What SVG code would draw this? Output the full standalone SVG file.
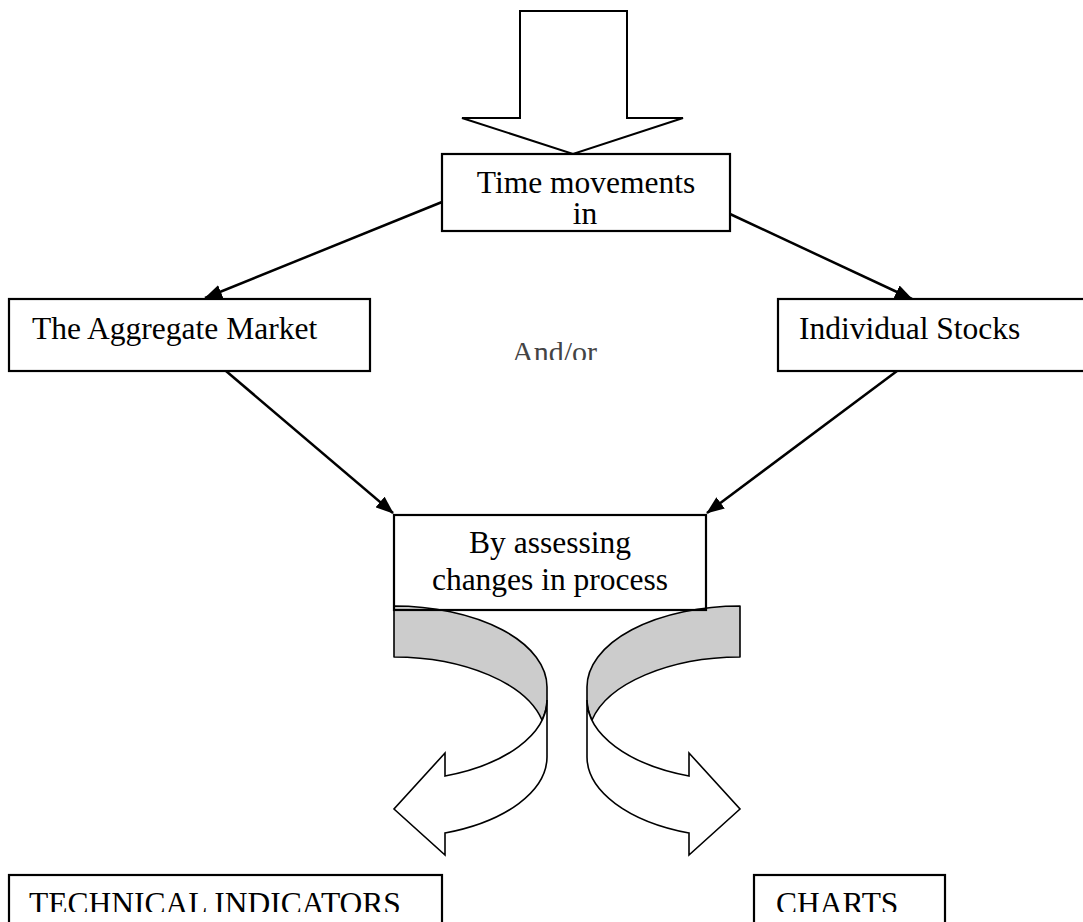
<svg xmlns="http://www.w3.org/2000/svg" width="1083" height="922" viewBox="0 0 1083 922">
<style>
.box{fill:#fff;stroke:#000;stroke-width:2.2}
.boxo{fill:none;stroke:#000;stroke-width:2.2}
.t{font-family:"Liberation Serif","Times New Roman",serif;font-size:31.5px;fill:#000}
.and{font-family:"Liberation Serif","Times New Roman",serif;font-size:30px;fill:#444}
.con{stroke:#000;stroke-width:2.5;fill:none;marker-end:url(#ah)}
.back{fill:#cccccc;stroke:#000;stroke-width:1.6;stroke-linejoin:round}
.front{fill:#fff;stroke:#000;stroke-width:1.6;stroke-linejoin:miter}
</style>
<defs>
<marker id="ah" markerUnits="userSpaceOnUse" markerWidth="18" markerHeight="14" refX="17" refY="7" orient="auto">
<path d="M0,0 L18,7 L0,14 z" fill="#000"/>
</marker>
<clipPath id="clipBottom"><rect x="0" y="0" width="1083" height="912"/></clipPath>
<clipPath id="clipAnd"><rect x="0" y="0" width="1083" height="360"/></clipPath>
</defs>
<rect width="1083" height="922" fill="#fff"/>

<g id="top-arrow">
<polygon points="520,11 627,11 627,118 683,118 573,154 462,118 520,118" fill="#fff" stroke="#000" stroke-width="2"/>
</g>

<g id="connectors">
<line class="con" x1="442" y1="202" x2="205" y2="298"/>
<line class="con" x1="730" y1="214" x2="912" y2="299"/>
<line class="con" x1="226" y1="371" x2="393" y2="513"/>
<line class="con" x1="897" y1="371" x2="707" y2="513"/>
</g>

<g id="node-time">
<rect class="box" x="442" y="154" width="288" height="77"/>
<text class="t" text-anchor="middle"><tspan x="586" y="193">Time movements</tspan><tspan x="585" y="224">in</tspan></text>
</g>

<g id="node-aggregate">
<rect class="box" x="9" y="299" width="361" height="72"/>
<text class="t" x="32" y="339">The Aggregate Market</text>
</g>

<g id="node-individual">
<rect class="box" x="778" y="299" width="320" height="72"/>
<text class="t" x="799" y="339">Individual Stocks</text>
</g>

<g id="label-andor" clip-path="url(#clipAnd)">
<text class="and" x="512" y="362">And/or</text>
</g>

<g id="curved-arrow-left">
<path class="back" d="M394,606 A153,81 0 0 1 547,687 L547,700 A153,81 0 0 1 542,720 A153,81 0 0 0 394,657 Z"/>
<path class="front" d="M547,700 L547,757 A153,81 0 0 1 445,833 L445,855 L394,809 L445,753 L445,776 A153,81 0 0 0 547,700 Z"/>
</g>

<g id="curved-arrow-right" transform="matrix(-1 0 0 1 1134 0)">
<path class="back" d="M394,606 A153,81 0 0 1 547,687 L547,700 A153,81 0 0 1 542,720 A153,81 0 0 0 394,657 Z"/>
<path class="front" d="M547,700 L547,757 A153,81 0 0 1 445,833 L445,855 L394,809 L445,753 L445,776 A153,81 0 0 0 547,700 Z"/>
</g>

<g id="node-assessing">
<rect fill="#fff" x="394" y="515" width="312" height="90"/>
<rect class="boxo" x="394" y="515" width="312" height="95"/>
<text class="t" text-anchor="middle"><tspan x="550" y="553">By assessing</tspan><tspan x="550" y="590">changes in process</tspan></text>
</g>

<g id="node-technical">
<rect class="box" x="9" y="875" width="433" height="60"/>
<text class="t" x="29" y="914" clip-path="url(#clipBottom)">TECHNICAL INDICATORS</text>
</g>

<g id="node-charts">
<rect class="box" x="754" y="875" width="191" height="60"/>
<text class="t" x="776" y="914" clip-path="url(#clipBottom)">CHARTS</text>
</g>
</svg>
